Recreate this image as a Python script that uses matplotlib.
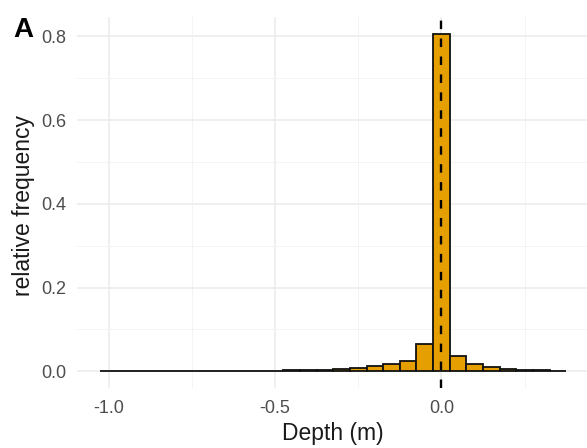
import matplotlib
matplotlib.use("Agg")
import matplotlib.pyplot as plt

# histogram of depth differences, bin width 0.05 m
depth_bins = [-1.00, -0.95, -0.90, -0.85, -0.80, -0.75, -0.70, -0.65, -0.60, -0.55,
              -0.50, -0.45, -0.40, -0.35, -0.30, -0.25, -0.20, -0.15, -0.10, -0.05,
              0.00, 0.05, 0.10, 0.15, 0.20, 0.25, 0.30, 0.35]
rel_freq = [0.001, 0.0005, 0.0005, 0.0005, 0.0005, 0.0005, 0.0005, 0.0005, 0.001, 0.001,
            0.001, 0.002, 0.002, 0.003, 0.005, 0.008, 0.012, 0.017, 0.025, 0.064,
            0.805, 0.036, 0.018, 0.011, 0.006, 0.003, 0.002, 0.001]
bin_width = 0.05
x_major = [-1.0, -0.5, 0.0]
x_minor = [-0.75, -0.25, 0.25]
y_major = [0.0, 0.2, 0.4, 0.6, 0.8]
y_minor = [0.1, 0.3, 0.5, 0.7]

plt.rcParams["font.family"] = ["Liberation Sans", "DejaVu Sans"]

W, H = 587, 448
fig = plt.figure(figsize=(W / 100, H / 100), dpi=100)
left, right, bottom, top = 77, 589.5, 388, 17
ax = fig.add_axes([left / W, 1 - bottom / H, (right - left) / W, (bottom - top) / H])

ax.bar(depth_bins, rel_freq, width=bin_width, color="#E69F00",
       edgecolor="#111111", linewidth=1.3, zorder=3)
ax.axvline(0, color="black", linewidth=1.7, linestyle=(0, (3.6, 4.0)), zorder=4)

ax.set_xlim(-1.095, 0.445)
ax.set_ylim(-0.04, 0.846)

ax.set_xticks(x_major)
ax.set_xticklabels([f"{v:.1f}" for v in x_major])
ax.set_xticks(x_minor, minor=True)
ax.set_yticks(y_major)
ax.set_yticklabels([f"{v:.1f}" for v in y_major])
ax.set_yticks(y_minor, minor=True)

ax.grid(which="major", color="#EBEBEB", linewidth=1.1, zorder=0)
ax.grid(which="minor", color="#F3F3F3", linewidth=0.6, zorder=0)
ax.set_axisbelow(True)
for s in ax.spines.values():
    s.set_visible(False)
ax.tick_params(which="both", length=0, labelsize=13, labelcolor="#4D4D4D")
ax.tick_params(axis="x", pad=8.5)
ax.tick_params(axis="y", pad=7.4)

fig.text(333 / W, 1 - 433 / H, "Depth (m)", ha="center", va="center", fontsize=16.5,
         color="#1A1A1A")
fig.text(24 / W, 1 - 205 / H, "relative frequency", ha="center", va="center",
         rotation=90, fontsize=16.5, color="#1A1A1A")
fig.text(13 / W, 1 - 37 / H, "A", ha="left", va="baseline", fontsize=20, fontweight="bold")

fig.savefig("out.png", dpi=100)
